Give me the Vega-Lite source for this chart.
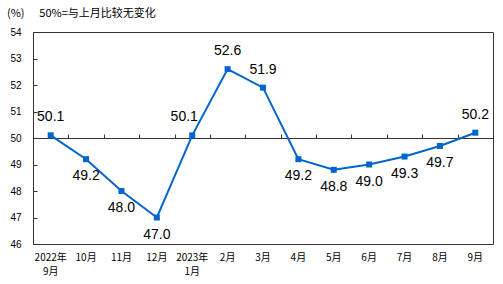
{
  "$schema": "https://vega.github.io/schema/vega-lite/v6.json",
  "autosize": {"type": "none"},
  "width": 460,
  "height": 212,
  "padding": {"left": 33, "top": 32, "right": 10, "bottom": 40},
  "background": "white",
  "title": {
    "text": "(%)\u00a0\u00a0\u00a0\u00a0\u00a0\u00a050%=与上月比较无变化",
    "anchor": "start",
    "frame": "group",
    "dx": -26,
    "offset": 8,
    "fontSize": 11,
    "fontWeight": "normal",
    "font": "Noto Sans CJK SC",
    "color": "#000000"
  },
  "data": {
    "values": [
      {"month": "2022年\n9月", "value": 50.1},
      {"month": "10月", "value": 49.2},
      {"month": "11月", "value": 48.0},
      {"month": "12月", "value": 47.0},
      {"month": "2023年\n1月", "value": 50.1},
      {"month": "2月", "value": 52.6},
      {"month": "3月", "value": 51.9},
      {"month": "4月", "value": 49.2},
      {"month": "5月", "value": 48.8},
      {"month": "6月", "value": 49.0},
      {"month": "7月", "value": 49.3},
      {"month": "8月", "value": 49.7},
      {"month": "9月", "value": 50.2}
    ]
  },
  "encoding": {
    "y": {
      "field": "value",
      "type": "quantitative",
      "scale": {"domain": [46, 54], "nice": false, "zero": false},
      "axis": {
        "title": null,
        "values": [46, 47, 48, 49, 50, 51, 52, 53, 54],
        "grid": false,
        "domain": true,
        "domainColor": "#333333",
        "ticks": true,
        "tickSize": -4,
        "tickColor": "#333333",
        "labelPadding": 16,
        "labelFontSize": 10,
        "labelFont": "Liberation Sans",
        "labelColor": "#000000"
      }
    }
  },
  "layer": [
    {
      "mark": {"type": "line", "color": "#0066CC", "strokeWidth": 2},
      "encoding": {
        "x": {
          "field": "month",
          "type": "nominal",
          "sort": null,
          "axis": {
            "orient": "bottom",
            "title": null,
            "domain": false,
            "ticks": false,
            "labelAngle": 0,
            "labelPadding": 8,
            "labelBaseline": "top",
            "labelLineHeight": 14,
            "labelFontSize": 10,
            "labelFont": "Noto Sans CJK SC",
            "labelColor": "#000000",
            "labelExpr": "split(datum.label, '\\n')"
          }
        }
      }
    },
    {
      "mark": {"type": "square", "color": "#0066CC", "size": 36, "opacity": 1},
      "encoding": {
        "x": {
          "field": "month",
          "type": "nominal",
          "sort": null,
          "axis": {
            "orient": "top",
            "offset": -106,
            "title": null,
            "labels": false,
            "domain": true,
            "domainColor": "#333333",
            "ticks": true,
            "tickBand": "extent",
            "tickSize": 4,
            "tickColor": "#333333"
          }
        }
      }
    },
    {
      "transform": [{"filter": "datum.value >= 50 && datum.month != '2023年\\n1月'"}],
      "mark": {"type": "text", "dy": -18, "fontSize": 14, "font": "Liberation Sans", "color": "#000000", "baseline": "middle"},
      "encoding": {
        "x": {"field": "month", "type": "nominal", "sort": null, "axis": null},
        "text": {"field": "value", "type": "quantitative", "format": ".1f"}
      }
    },
    {
      "transform": [{"filter": "datum.month == '2023年\\n1月'"}],
      "mark": {"type": "text", "dy": -18, "dx": -8, "fontSize": 14, "font": "Liberation Sans", "color": "#000000", "baseline": "middle"},
      "encoding": {
        "x": {"field": "month", "type": "nominal", "sort": null, "axis": null},
        "text": {"field": "value", "type": "quantitative", "format": ".1f"}
      }
    },
    {
      "transform": [{"filter": "datum.value < 50"}],
      "mark": {"type": "text", "dy": 17, "fontSize": 14, "font": "Liberation Sans", "color": "#000000", "baseline": "middle"},
      "encoding": {
        "x": {"field": "month", "type": "nominal", "sort": null, "axis": null},
        "text": {"field": "value", "type": "quantitative", "format": ".1f"}
      }
    }
  ],
  "resolve": {"axis": {"x": "independent"}},
  "config": {
    "view": {"stroke": "#333333", "strokeWidth": 1},
    "scale": {"bandPaddingInner": 0, "bandPaddingOuter": 0}
  }
}
